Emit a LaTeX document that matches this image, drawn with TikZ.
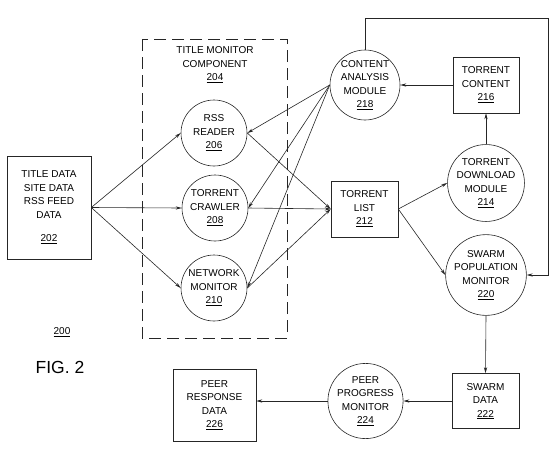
\documentclass[tikz,border=0pt]{standalone}
\usepackage{fontspec}
\setmainfont{Liberation Sans}
\usetikzlibrary{arrows.meta,shapes.geometric}
\tikzset{
  ln/.style={line width=0.6pt,draw=black!85},
  arr/.style={ln,-{Stealth[length=6pt,width=3.2pt]}},
  lbl/.style={font=\fontsize{10}{13.5}\selectfont,align=center,text=black},
  circ/.style={lbl,ln,circle,inner sep=0pt},
  boxx/.style={lbl,ln,rectangle,inner sep=0pt}
}
\begin{document}
\begin{tikzpicture}[x=1pt,y=-1pt]
\useasboundingbox (0,0) rectangle (557,456);
% dashed component box
\draw[ln,dash pattern=on 12pt off 6pt] (142,39) rectangle (287,338);
\node[lbl] (t204) at (215,65) {TITLE MONITOR\\COMPONENT\\\underline{204}};
% nodes
\node[boxx,minimum width=84pt,minimum height=103pt] (n202) at (49,207.5) {TITLE DATA\\SITE DATA\\RSS FEED\\DATA\\[10pt]\underline{202}};
\node[circ,minimum size=66pt] (n206) at (214,133) {RSS\\READER\\\underline{206}};
\node[circ,minimum size=66pt] (n208) at (215,208) {TORRENT\\CRAWLER\\\underline{208}};
\node[circ,minimum size=66pt] (n210) at (214,288) {NETWORK\\MONITOR\\\underline{210}};
\node[circ,minimum size=70pt] (n218) at (365,85) {CONTENT\\ANALYSIS\\MODULE\\\underline{218}};
\node[boxx,minimum width=66pt,minimum height=56pt] (n216) at (486,85) {TORRENT\\CONTENT\\\underline{216}};
\node[circ,minimum size=70pt] (n214) at (486,183) {TORRENT\\DOWNLOAD\\MODULE\\\underline{214}};
\node[boxx,minimum width=67pt,minimum height=56pt] (n212) at (364.5,209) {TORRENT\\LIST\\\underline{212}};
\node[circ,minimum size=72pt] (n220) at (486,275) {SWARM\\POPULATION\\MONITOR\\\underline{220}};
\node[boxx,minimum width=67pt,minimum height=55pt] (n222) at (485.5,401) {SWARM\\DATA\\\underline{222}};
\node[circ,minimum size=70pt] (n224) at (365.5,401) {PEER\\PROGRESS\\MONITOR\\\underline{224}};
\node[boxx,minimum width=83pt,minimum height=72pt] (n226) at (214.5,405) {PEER\\RESPONSE\\DATA\\\underline{226}};
\node[lbl] (n200) at (62,332) {\underline{200}};
\node[lbl,font=\fontsize{17.5}{20}\selectfont] (fig) at (60,367) {FIG. 2};
% connectors
\draw[arr] (n202.east) -- (n206.west);
\draw[arr] (n202.east) -- (n208.west);
\draw[arr] (n202.east) -- (n210.west);
\draw[arr] (n206.east) -- (n212.west);
\draw[arr] (n208.east) -- (n212.west);
\draw[arr] (n210.east) -- (n212.west);
\draw[arr] (n218.west) -- (n206.east);
\draw[arr] (n218.west) -- (n208.east);
\draw[arr] (n218.west) -- (n210.east);
\draw[arr] (n212.east) -- (n214.west);
\draw[arr] (n212.east) -- (n220.west);
\draw[arr] (n214.north) -- (n216.south);
\draw[arr] (n216.west) -- (n218.east);
\draw[arr] (n220.south) -- (n222.north);
\draw[arr] (n222.west) -- (n224.east);
\draw[arr] (n224.west) -- (n226.east |- n224.west);
\coordinate (fa) at (365,18);
\coordinate (fb) at (548,18);
\coordinate (fc) at (548,275);
\draw[arr] (n218.north) -- (fa) -- (fb) -- (fc) -- (n220.east);
\end{tikzpicture}
\end{document}
